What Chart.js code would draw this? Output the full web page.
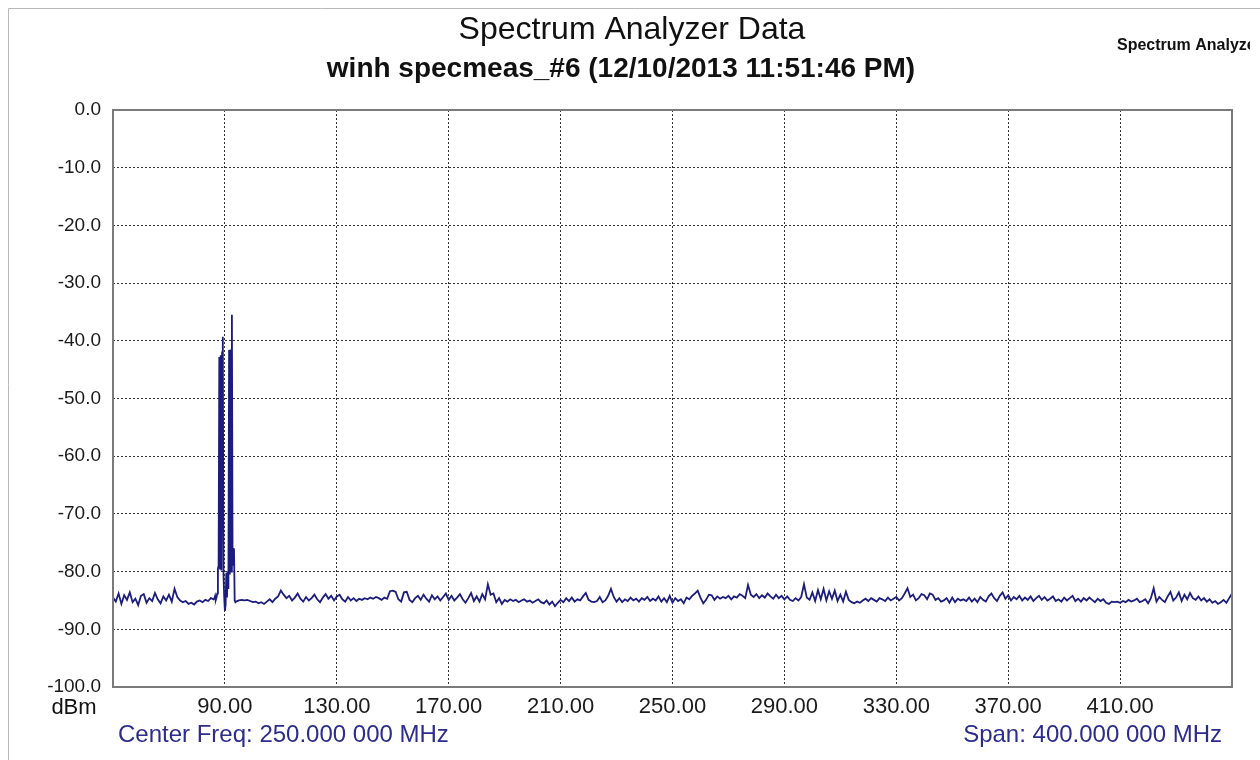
<!DOCTYPE html>
<html>
<head>
<meta charset="utf-8">
<script src="https://cdn.jsdelivr.net/npm/chart.js@4.4.1/dist/chart.umd.min.js"></script>
<style>
  html, body { margin: 0; padding: 0; background: #fff; }
  #wrap { width: 1260px; height: 760px; position: relative; }
</style>
</head>
<body>
<div id="wrap"><canvas id="spec"></canvas></div>
<script>
// trace; each band has its own start and step (MHz)
const bandStarts = [50, 86.25, 94, 131, 212, 292, 372];
const bandSteps  = [1, 0.25, 1, 1, 1, 1, 1];
const band1 = [ // 50 - 86 MHz
  -84.5,-85.2,-83.8,-85.6,-84.1,-84.9,-83.6,-85.3,-84.7,-85.8,-84.2,-83.9,-85.4,-84.6,-85.1,-83.7,-84.8,-85.5,-84.3,-85.0,
  -84.0,-85.2,-83.0,-84.4,-85.0,-85.3,-85.1,-85.6,-85.4,-85.7,-85.2,-85.0,-85.3,-84.9,-85.1,-84.6,-84.8
];
const peakBand = [ // 86.25 - 93.75 MHz, the carriers
  -84.6,-84.2,-84.9,-84.5,-83.8,-79.5,-79.0,-42.8,-79.5,-42.5,-79.8,-42.0,-39.3,-80.5,-84.5,-86.8,
  -85.8,-80.2,-84.5,-80.0,-83.0,-41.6,-80.5,-41.5,-80.0,-35.5,-79.0,-76.0,-76.2,-85.0,-85.3
];
const band1b = [ // 94 - 130 MHz
  -85.2,-85.0,-84.9,-85.0,-84.9,-85.1,-85.3,-85.2,-85.5,-85.3,-85.6,-85.2,-84.8,-85.3,-84.7,-84.3,
  -83.3,-84.0,-84.6,-84.2,-85.0,-84.5,-83.8,-84.7,-85.2,-84.4,-85.0,-84.6,-84.0,-84.8,-85.3,-84.5,-83.9,-84.7,-84.2,-85.0,-84.3
];
const band2 = [ // 131 - 211 MHz
  -84.0,-84.8,-85.2,-84.4,-85.0,-84.6,-85.1,-84.7,-84.9,-84.6,-84.8,-84.5,-84.7,-84.4,-84.6,-84.9,-84.5,-84.7,-83.4,-83.3,
  -83.5,-84.8,-85.2,-83.6,-83.5,-84.9,-85.3,-84.6,-84.2,-84.9,-84.0,-84.7,-85.2,-84.1,-84.8,-84.3,-85.0,-84.4,-83.8,-84.9,
  -84.2,-85.0,-84.5,-83.9,-84.8,-85.4,-84.6,-83.7,-85.1,-84.3,-85.2,-83.9,-84.8,-82.2,-84.0,-83.8,-85.3,-84.6,-85.6,-84.9,
  -85.2,-84.8,-85.1,-84.9,-85.3,-85.0,-84.8,-85.2,-85.0,-85.4,-85.1,-84.8,-85.3,-85.5,-85.0,-85.7,-85.2,-86.0,-85.4,-84.9,-85.3
];
const band3 = [ // 212 - 291 MHz
  -84.6,-85.1,-84.5,-85.2,-84.8,-85.0,-84.3,-83.7,-84.9,-85.2,-85.3,-85.1,-84.4,-85.3,-85.0,-84.2,-83.0,-84.4,-85.2,-84.6,
  -85.3,-84.8,-85.1,-84.5,-85.0,-84.7,-85.2,-84.6,-84.9,-84.4,-85.1,-84.7,-85.0,-84.3,-85.2,-84.6,-85.3,-84.2,-85.4,-84.6,
  -85.1,-84.8,-85.5,-84.5,-84.8,-84.2,-83.8,-83.3,-84.5,-85.5,-84.9,-84.0,-84.1,-84.9,-84.3,-84.7,-84.4,-84.6,-84.2,-84.8,
  -84.3,-84.5,-83.9,-84.2,-84.6,-82.3,-84.0,-84.4,-83.9,-84.6,-84.1,-84.5,-83.8,-84.3,-84.7,-84.0,-84.6,-84.2,-84.8,-84.3
];
const band4 = [ // 292 - 371 MHz
  -84.9,-85.1,-84.6,-85.0,-84.4,-82.2,-84.5,-84.9,-83.6,-85.1,-83.2,-84.8,-83.0,-85.0,-83.4,-84.7,-83.3,-85.1,-84.0,-85.2,
  -83.5,-84.9,-85.3,-85.5,-85.2,-85.4,-85.0,-84.7,-85.1,-84.6,-84.9,-85.2,-84.6,-84.8,-85.1,-84.5,-85.0,-84.7,-84.4,-85.0,
  -84.6,-83.8,-82.9,-84.4,-84.0,-85.0,-84.6,-83.9,-84.1,-84.8,-83.8,-84.0,-84.9,-84.6,-85.2,-85.0,-84.6,-85.4,-84.5,-85.3,
  -84.7,-85.0,-84.8,-85.1,-84.5,-85.2,-84.7,-85.3,-84.4,-84.9,-85.2,-84.3,-83.8,-84.6,-85.1,-84.2,-83.6,-84.7,-84.1,-85.0
];
const band5 = [ // 372 - 450 MHz
  -84.4,-84.8,-84.2,-85.0,-84.5,-84.9,-84.3,-85.1,-84.6,-84.2,-84.9,-84.4,-85.0,-84.7,-84.3,-85.1,-84.8,-85.2,-84.5,-85.0,
  -84.6,-84.2,-85.1,-84.7,-85.2,-84.6,-85.0,-84.5,-84.9,-85.3,-84.7,-85.1,-84.8,-85.4,-85.6,-85.2,-85.3,-85.2,-85.4,-85.1,
  -85.3,-84.9,-85.2,-85.0,-84.7,-85.3,-85.1,-84.8,-85.5,-84.6,-82.9,-85.2,-84.4,-84.9,-85.3,-84.3,-83.5,-85.0,-84.5,-83.6,
  -85.1,-84.0,-84.8,-83.7,-84.6,-84.9,-84.3,-85.0,-84.6,-85.2,-84.8,-85.4,-85.1,-85.6,-85.3,-84.9,-85.4,-84.6,-83.8
];
const xTicks = [90, 130, 170, 210, 250, 290, 330, 370, 410];

const bands = [band1, peakBand, band1b, band2, band3, band4, band5];
let points = [];
bands.forEach((b, k) => {
  b.forEach((v, i) => points.push({ x: bandStarts[k] + i * bandSteps[k], y: v }));
});

const FONT = '"Liberation Sans", Arial, sans-serif';

// titles, footer texts and the plot frame
const decor = {
  id: 'decor',
  afterDraw(chart) {
    const c = chart.ctx;
    const a = chart.chartArea;
    c.save();
    // outer frame of the window
    c.strokeStyle = '#b8b8b8';
    c.lineWidth = 1;
    c.beginPath();
    c.moveTo(8.5, 760); c.lineTo(8.5, 8.5); c.lineTo(1260, 8.5);
    c.stroke();
    // plot box
    c.strokeStyle = '#7a7a7a';
    c.lineWidth = 2;
    c.strokeRect(a.left, a.top, a.right - a.left, a.bottom - a.top);

    c.textBaseline = 'middle';
    c.fillStyle = '#111';
    c.textAlign = 'center';
    c.font = '32px ' + FONT;
    c.fillText('Spectrum Analyzer Data', 632, 30);
    c.font = 'bold 28px ' + FONT;
    c.fillText('winh specmeas_#6 (12/10/2013 11:51:46 PM)', 621, 69);

    c.save();
    c.beginPath();
    c.rect(1100, 20, 150, 50);
    c.clip();
    c.textAlign = 'left';
    c.font = 'bold 16px ' + FONT;
    c.fillText('Spectrum Analyzer Data', 1117, 46);
    c.restore();

    c.font = '22px ' + FONT;
    c.textAlign = 'center';
    c.fillText('dBm', 74, 708);
    c.fillStyle = '#2c2c8c';
    c.font = '24px ' + FONT;
    c.textAlign = 'left';
    c.fillText('Center Freq: 250.000 000 MHz', 118, 735);
    c.textAlign = 'right';
    c.fillText('Span: 400.000 000 MHz', 1222, 735);
    c.restore();
  }
};

new Chart(document.getElementById('spec'), {
  type: 'line',
  data: {
    datasets: [{
      data: points,
      borderColor: '#1c1c7e',
      borderWidth: 1.8,
      pointRadius: 0,
      tension: 0,
      fill: false
    }]
  },
  options: {
    responsive: true,
    maintainAspectRatio: false,
    animation: false,
    layout: { padding: { top: 110, left: 0, right: 28, bottom: 0 } },
    plugins: { legend: { display: false }, tooltip: { enabled: false } },
    scales: {
      x: {
        type: 'linear',
        min: 50,
        max: 450,
        afterBuildTicks: (s) => { s.ticks = xTicks.map(v => ({ value: v })); },
        afterFit: (s) => { s.height = 73; },
        grid: { color: '#333', drawTicks: false, lineWidth: 1 },
        border: { display: false, dash: [2, 2] },
        ticks: {
          padding: 7,
          color: '#1a1a1a',
          font: { family: FONT, size: 22 },
          maxRotation: 0,
          autoSkip: false,
          callback: (v) => v.toFixed(2)
        }
      },
      y: {
        min: -100,
        max: 0,
        afterFit: (s) => { s.width = 113; },
        grid: { color: '#333', drawTicks: false, lineWidth: 1 },
        border: { display: false, dash: [2, 2] },
        ticks: {
          stepSize: 10,
          padding: 12,
          color: '#1a1a1a',
          font: { family: FONT, size: 19 },
          callback: (v) => v.toFixed(1)
        }
      }
    }
  },
  plugins: [decor]
});
</script>
</body>
</html>
